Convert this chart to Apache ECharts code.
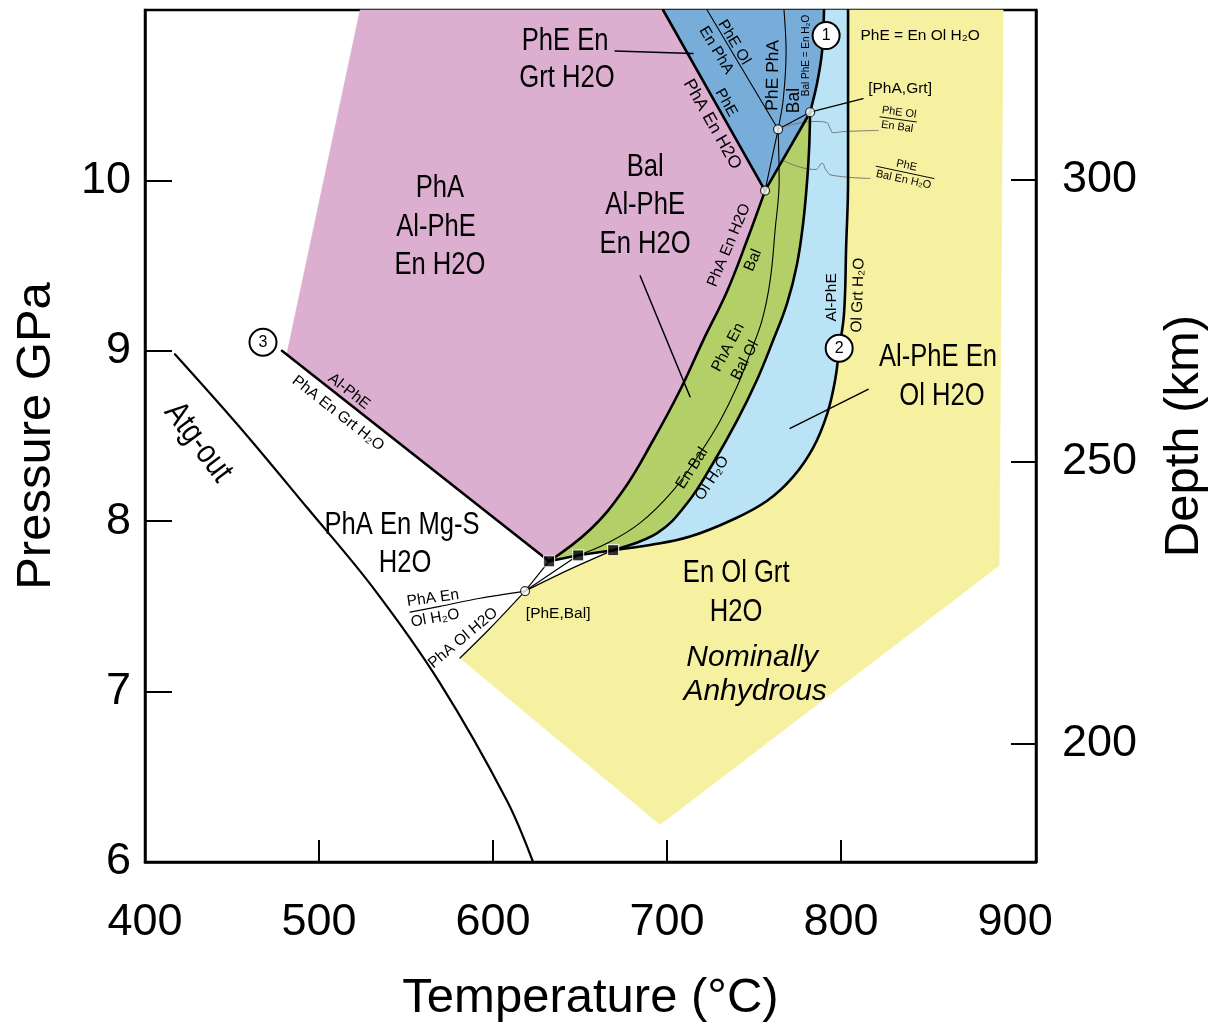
<!DOCTYPE html>
<html>
<head>
<meta charset="utf-8">
<script src="https://cdn.jsdelivr.net/npm/echarts@6/dist/echarts.min.js"></script>
<style>
  html, body { margin: 0; padding: 0; background: #fff; }
  #chart { width: 1227px; height: 1028px; }
</style>
</head>
<body>
<div id="chart"></div>
<script>
// ---- Axis ticks ----------------------------------------------------------
const tempLabels = [400, 500, 600, 700, 800, 900];
const tempTicks = [500, 600, 700, 800];
const pressureLabels = [6, 7, 8, 9, 10];
const pressureTicks = [7, 8, 9, 10];
const depthTicks = [200, 250, 300];

// ---- Reaction curves, points are [T (°C), P (GPa)] -----------------------
const atgOut = [[417.2, 8.98], [454.6, 8.55], [493.1, 8.08], [531.0, 7.61], [569.5, 7.05], [608.0, 6.36], [623.0, 6.0]];
const alPhEOut = [[478.7, 9.0], [632.2, 7.765]];
const phEOutPhA = [[697.7, 11.0], [756.3, 9.94]];
const balIn = [[756.3, 9.94], [782.2, 10.40]];
const greenLeft = [[756.3, 9.94], [746.0, 9.65], [734.5, 9.35], [720.7, 9.06], [707.5, 8.77], [692.0, 8.475],
  [674.7, 8.18], [655.7, 7.95], [632.2, 7.765]];
const greenMid = [[763.8, 10.30], [764.4, 10.0], [762.1, 9.71], [759.2, 9.41], [754.6, 9.18], [747.7, 8.985],
  [740.2, 8.79], [730.5, 8.59], [719.0, 8.40], [703.4, 8.18], [684.5, 7.99], [665.5, 7.87], [648.9, 7.80]];
const greenRight = [[782.2, 10.40], [781.6, 10.18], [780.5, 10.0], [778.2, 9.75], [774.7, 9.51], [769.0, 9.28],
  [760.9, 9.06], [751.7, 8.83], [740.2, 8.59], [726.4, 8.34], [711.5, 8.105], [694.3, 7.93], [669.0, 7.83]];
const greenBase = [[632.2, 7.765], [648.9, 7.80], [669.0, 7.83]];
const phEOut = [[782.2, 10.40], [786.2, 10.57], [789.1, 10.76], [790.2, 11.0]];
const alPhEOutRight = [[804.0, 11.0], [804.0, 10.0], [802.9, 9.61], [801.7, 9.22], [798.9, 9.01], [796.6, 8.83],
  [792.0, 8.63], [783.9, 8.43], [772.4, 8.26], [757.5, 8.12], [737.9, 8.01], [713.2, 7.91], [690.2, 7.86], [669.0, 7.83]];

// thin reactions around the invariant points
const phEOlEnPhA = [[723.0, 11.0], [763.8, 10.30]];
const phEPhABal = [[767.2, 11.0], [768.4, 10.76], [766.7, 10.47], [763.8, 10.30]];
const invToJunction = [[763.8, 10.30], [756.3, 9.94]];
const invToPhAGrt = [[763.8, 10.30], [782.2, 10.40]];
const phEBalToSq1 = [[618.4, 7.59], [632.2, 7.765]];
const phEBalToSq2 = [[618.4, 7.59], [648.9, 7.80]];
const phEBalToSq3 = [[618.4, 7.59], [642.5, 7.71], [669.0, 7.83]];
const phAEnOlH2O = [[618.4, 7.59], [592.5, 7.548], [569.5, 7.50], [552.3, 7.466]];
const phAOlH2O = [[618.4, 7.59], [598.3, 7.372], [581.0, 7.197]];

// outer rims of the shaded fields
const phARim = [[481.6, 8.985], [523.6, 11.0], [697.7, 11.0]];
const anhydrousRim = [[893.1, 11.0], [890.8, 7.74], [696.0, 6.22]];

// leader lines and wavy pointers
const leaderPhEEn = [[670.1, 10.76], [714.9, 10.745]];
const leaderBal = [[684.5, 9.44], [713.2, 8.73]];
const leaderAlPhE = [[815.5, 8.774], [770.7, 8.545]];
const leaderPhAGrt = [[782.2, 10.40], [812.6, 10.48]];
const wavy1 = [[767.8, 10.317], [785.6, 10.346], [791.4, 10.34], [793.7, 10.305], [795.4, 10.28], [802.3, 10.287], [821.3, 10.293]];
const wavy2 = [[766.7, 10.117], [785.1, 10.064], [789.1, 10.10], [791.4, 10.06], [794.8, 10.03], [816.7, 10.012]];

// invariant points
const openPoints = [[763.8, 10.30], [782.2, 10.40], [756.3, 9.94], [618.4, 7.59]];
const squarePoints = [[632.2, 7.765], [648.9, 7.80], [669.0, 7.83]];
const numberedPoints = [[791.4, 10.85, '1'], [798.9, 9.015, '2'], [467.8, 9.05, '3']];

// ---- Text: [T, P, text, angle°] -----------------------------------------
const fieldLabels = [
  [641.4, 10.82, 'PhE En'], [642.5, 10.60, 'Grt H2O'],
  [569.5, 9.953, 'PhA'], [567.2, 9.724, 'Al-PhE'], [569.5, 9.50, 'En H2O'],
  [687.4, 10.076, 'Bal'], [687.4, 9.853, 'Al-PhE'], [687.4, 9.625, 'En H2O'],
  [547.7, 7.977, 'PhA En Mg-S'], [549.4, 7.754, 'H2O'],
  [739.7, 7.695, 'En Ol Grt'], [739.7, 7.466, 'H2O'],
  [855.7, 8.962, 'Al-PhE En'], [858.0, 8.733, 'Ol H2O']
];
const italicLabels = [[748.9, 7.202, 'Nominally'], [750.6, 6.997, 'Anhydrous']];
const atgLabel = [[430.5, 8.463, 'Atg-out', -53]];
const curveLabels = [
  [517.2, 8.762, 'Al-PhE', -38], [510.9, 8.633, 'PhA En Grt H₂O', -38],
  [733.9, 10.457, 'PhE', -60.5],
  [728.2, 10.763, 'En PhA', -59], [738.5, 10.81, 'PhE Ol', -59],
  [735.6, 9.619, 'PhA En H2O', 67], [749.4, 9.531, 'Bal', 67],
  [735.1, 9.02, 'PhA En', 62], [744.8, 8.944, 'Bal Ol', 62],
  [714.4, 8.311, 'En Bal', 57], [725.9, 8.252, 'Ol H₂O', 57],
  [794.8, 9.314, 'Al-PhE', 90], [809.8, 9.326, 'Ol Grt H₂O', 88],
  [565.5, 7.548, 'PhA En', 8], [566.7, 7.431, 'Ol H₂O', 10],
  [582.8, 7.314, 'PhA Ol H2O', 40],
  [637.4, 7.455, '[PhE,Bal]', 0], [833.9, 10.54, '[PhA,Grt]', 0],
  [845.4, 10.85, 'PhE = En Ol H₂O', 0]
];
const curveLabelsLarge = [[725.9, 10.329, 'PhA En H2O', -60.5], [760.9, 10.616, 'PhE PhA', 89], [773.0, 10.469, 'Bal', 90]];
const tinyLabels = [[779.9, 10.733, 'Bal PhE = En H₂O', 90]];
const fractionLabels = [[832.8, 10.358, 'PhE Ol', 'En Bal', -8], [836.8, 10.047, 'PhE', 'Bal En H₂O', -12]];

// ---- Fields (built from the curves above) --------------------------------
const rev = a => a.slice().reverse();
const phAField = [...phARim, ...greenLeft];
const phEField = [[697.7, 11.0], ...rev(phEOut), [756.3, 9.94]];
const balField = [[756.3, 9.94], ...greenRight, [648.9, 7.80], ...rev(greenLeft)];
const alPhEField = [...phEOut, ...alPhEOutRight, ...rev(greenRight)];
const anhydrousField = [...rev(phAOlH2O), [642.5, 7.71], ...rev(alPhEOutRight), ...anhydrousRim];

// ---- Styling -------------------------------------------------------------
const SANS = "'Liberation Sans', Arial, Helvetica, sans-serif";

function fieldSeries(pts, color) {
  return {
    type: 'custom', coordinateSystem: 'cartesian2d', silent: true, z: 1, data: [pts[0]],
    renderItem(params, api) {
      return { type: 'polygon', shape: { points: pts.map(p => api.coord(p)) },
               style: { fill: color, stroke: color, lineWidth: 0.6 } };
    }
  };
}
function curve(pts, width, z, smooth, color) {
  return {
    type: 'line', data: pts, symbol: 'none', showSymbol: false, silent: true,
    smooth: smooth || false, z: z,
    lineStyle: { color: color || '#000', width: width, cap: 'round', join: 'round' }
  };
}
// condensed lettering is drawn by squeezing the text horizontally
function textSeries(items, font, squeeze) {
  return {
    type: 'custom', coordinateSystem: 'cartesian2d', silent: true, z: 20,
    data: items.map(d => [d[0], d[1]]),
    renderItem(params, api) {
      const d = items[params.dataIndex];
      const p = api.coord([d[0], d[1]]);
      return { type: 'text', x: p[0], y: p[1], rotation: (d[3] || 0) * Math.PI / 180,
               scaleX: squeeze || 1,
               style: { text: d[2], font: font, fill: '#000', align: 'center', verticalAlign: 'middle' } };
    }
  };
}
function fractionSeries(items) {
  return {
    type: 'custom', coordinateSystem: 'cartesian2d', silent: true, z: 20,
    data: items.map(d => [d[0], d[1]]),
    renderItem(params, api) {
      const d = items[params.dataIndex];
      const p = api.coord([d[0], d[1]]);
      const font = '11px ' + SANS;
      const w = Math.max(d[2].length, d[3].length) * 5.6 + 4;
      return {
        type: 'group', x: p[0], y: p[1], rotation: d[4] * Math.PI / 180,
        children: [
          { type: 'text', x: 0, y: -7, style: { text: d[2], font, fill: '#000', align: 'center', verticalAlign: 'middle' } },
          { type: 'line', shape: { x1: -w / 2, y1: 0, x2: w / 2, y2: 0 }, style: { stroke: '#000', lineWidth: 0.9 } },
          { type: 'text', x: 0, y: 7.5, style: { text: d[3], font, fill: '#000', align: 'center', verticalAlign: 'middle' } }
        ]
      };
    }
  };
}

const chart = echarts.init(document.getElementById('chart'), null, { renderer: 'canvas' });
chart.setOption({
  animation: false,
  backgroundColor: '#fff',
  grid: { left: 145, right: 191, top: 10, bottom: 166, show: true, borderColor: '#000', borderWidth: 2.5 },
  xAxis: {
    type: 'value', min: 400, max: 912, interval: 100,
    name: 'Temperature (°C)', nameLocation: 'middle', nameGap: 112,
    nameTextStyle: { fontSize: 49, fontFamily: SANS, color: '#000' },
    axisLine: { lineStyle: { color: '#000', width: 2.5 } },
    axisTick: { inside: true, length: 22, customValues: tempTicks, lineStyle: { color: '#000', width: 2 } },
    axisLabel: { customValues: tempLabels, fontSize: 45, fontFamily: SANS, color: '#000', margin: 38 },
    splitLine: { show: false }
  },
  yAxis: [{
    type: 'value', min: 6, max: 11, interval: 1, position: 'left',
    name: 'Pressure GPa', nameLocation: 'middle', nameGap: 84, nameRotate: 90,
    nameTextStyle: { fontSize: 49, fontFamily: SANS, color: '#000' },
    axisLine: { show: true, lineStyle: { color: '#000', width: 2.5 } },
    axisTick: { show: true, inside: true, length: 27, customValues: pressureTicks, lineStyle: { color: '#000', width: 2 } },
    axisLabel: { customValues: pressureLabels, fontSize: 45, fontFamily: SANS, color: '#000', margin: 14 },
    splitLine: { show: false }
  }, {
    type: 'value', min: 179, max: 330, position: 'right',
    name: 'Depth (km)', nameLocation: 'middle', nameGap: 124, nameRotate: 90,
    nameTextStyle: { fontSize: 49, fontFamily: SANS, color: '#000' },
    axisLine: { show: true, lineStyle: { color: '#000', width: 2.5 } },
    axisTick: { show: true, inside: true, length: 25, customValues: depthTicks, lineStyle: { color: '#000', width: 2 } },
    axisLabel: { customValues: depthTicks, fontSize: 45, fontFamily: SANS, color: '#000', margin: 26 },
    splitLine: { show: false }
  }],
  series: [
    fieldSeries(anhydrousField, '#f6f0a1'),
    fieldSeries(phAField, '#dcaed0'),
    fieldSeries(phEField, '#78acd9'),
    fieldSeries(alPhEField, '#bae3f6'),
    fieldSeries(balField, '#b3cf67'),

    // thin reactions
    curve(greenMid, 1.1, 5, 0.4),
    curve(phEOlEnPhA, 1.1, 5),
    curve(phEPhABal, 1.1, 5, 0.3),
    curve(invToJunction, 1.1, 5),
    curve(invToPhAGrt, 1.1, 5),
    curve(phEBalToSq1, 1.2, 5),
    curve(phEBalToSq2, 1.2, 5),
    curve(phEBalToSq3, 1.2, 5, 0.3),
    curve(phAEnOlH2O, 1.2, 5, 0.3),
    curve(phAOlH2O, 1.2, 5, 0.3),
    curve(leaderPhEEn, 1.5, 5),
    curve(leaderBal, 1.5, 5),
    curve(leaderAlPhE, 1.5, 5),
    curve(leaderPhAGrt, 1.3, 5),
    curve(wavy1, 0.9, 5, 0.5, '#6d6d6d'),
    curve(wavy2, 0.9, 5, 0.5, '#6d6d6d'),

    // field boundaries
    curve(atgOut, 2.2, 6, 0.35),
    curve(alPhEOut, 2.6, 6),
    curve(phEOutPhA, 2.6, 6),
    curve(balIn, 2.6, 6),
    curve(greenLeft, 2.6, 6, 0.4),
    curve(greenRight, 2.6, 6, 0.4),
    curve(greenBase, 2.6, 6),
    curve(phEOut, 2.6, 6, 0.3),
    curve(alPhEOutRight, 2.6, 6, 0.4),

    // invariant points
    {
      type: 'scatter', data: openPoints, symbol: 'circle', symbolSize: 9, z: 8, silent: true,
      itemStyle: { color: '#fff', borderColor: '#000', borderWidth: 1.2 }
    },
    {
      type: 'scatter', data: squarePoints, symbol: 'rect', symbolSize: 11, z: 8, silent: true,
      itemStyle: { color: '#000', borderColor: '#fff', borderWidth: 1.2 }
    },
    {
      type: 'scatter', data: numberedPoints.map(d => ({ value: [d[0], d[1]], name: d[2] })),
      symbol: 'circle', symbolSize: 27, z: 9, silent: true,
      itemStyle: { color: '#fff', borderColor: '#000', borderWidth: 2, opacity: 1 },
      label: { show: true, position: 'inside', formatter: p => p.name, fontSize: 16, fontFamily: SANS, color: '#000' }
    },

    textSeries(fieldLabels, '32px ' + SANS, 0.8),
    textSeries(italicLabels, 'italic 30px ' + SANS),
    textSeries(atgLabel, '34px ' + SANS, 0.82),
    textSeries(curveLabels, '15.5px ' + SANS),
    textSeries(curveLabelsLarge, '17.5px ' + SANS),
    textSeries(tinyLabels, '10px ' + SANS),
    fractionSeries(fractionLabels)
  ]
});
</script>
</body>
</html>
